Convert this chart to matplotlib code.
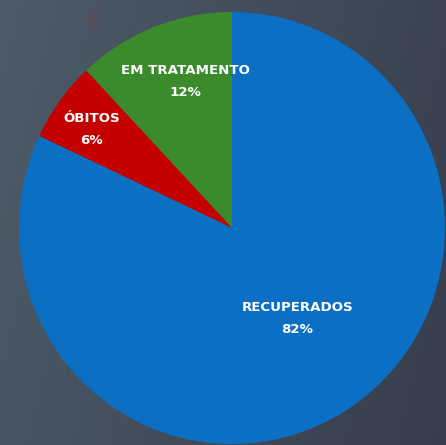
import numpy as np
import matplotlib
matplotlib.use("Agg")
import matplotlib.pyplot as plt

categories = ["RECUPERADOS", "ÓBITOS", "EM TRATAMENTO"]
values = [82, 6, 12]
pct_labels = ["82%", "6%", "12%"]
colors = ["#0b6fc3", "#c40000", "#3b8a2c"]
label_dist = [0.52, 0.80, 0.715]
label_shift = [3.8, 1.3, -3.7]   # degrees from wedge bisector

W, H = 446, 445
cx, cy = 232, 228          # pie centre, pixels from top-left
Rx, Ry = 213, 216          # pie radii in pixels (slightly oval in the source)

fig = plt.figure(figsize=(W / 100, H / 100), dpi=100)
ax = fig.add_axes([0, 0, 1, 1])
xlim = (-cx / Rx, (W - cx) / Rx)
ylim = (-(H - cy) / Ry, cy / Ry)

# background gradient
xs = np.linspace(0, 1, W)
ys = np.linspace(0, 1, H)
X, Y = np.meshgrid(xs, ys)
left = np.array([76, 92, 104]) / 255
right = np.array([55, 61, 77]) / 255
t = np.clip(0.8 * X + 0.2 * Y, 0, 1)[..., None]
img = left * (1 - t) + right * t
# faint reddish ghost spot near top-left
px, py = np.meshgrid(np.arange(W), np.arange(H))
blob = np.exp(-(((px - 92) / 7.0) ** 2 + ((py - 20) / 9.0) ** 2))[..., None]
img = img * (1 - 0.35 * blob) + np.array([120, 60, 70]) / 255 * 0.35 * blob
ax.imshow(img, extent=(xlim[0], xlim[1], ylim[0], ylim[1]), origin="upper",
          aspect="auto", zorder=0)

# order counterclockwise from top: green, red, blue
order = [2, 1, 0]
wedges, _ = ax.pie([values[i] for i in order],
                   colors=[colors[i] for i in order],
                   startangle=90, counterclock=True, radius=1,
                   center=(0, 0), frame=True,
                   wedgeprops=dict(linewidth=0, zorder=1))
ax.set_xlim(*xlim)
ax.set_ylim(*ylim)
ax.set_aspect("auto")
ax.axis("off")

dy = 11 / Ry
for w, i in zip(wedges, order):
    ang = np.deg2rad((w.theta1 + w.theta2) / 2 + label_shift[i])
    r = label_dist[i]
    x, y = r * np.cos(ang), r * np.sin(ang)
    ax.text(x, y + dy, categories[i], ha="center", va="center", color="white",
            fontsize=9.6, fontweight="bold", family="DejaVu Sans", zorder=3)
    ax.text(x, y - dy, pct_labels[i], ha="center", va="center", color="white",
            fontsize=9.6, fontweight="bold", family="DejaVu Sans", zorder=3)

fig.savefig("out.png", dpi=100)
